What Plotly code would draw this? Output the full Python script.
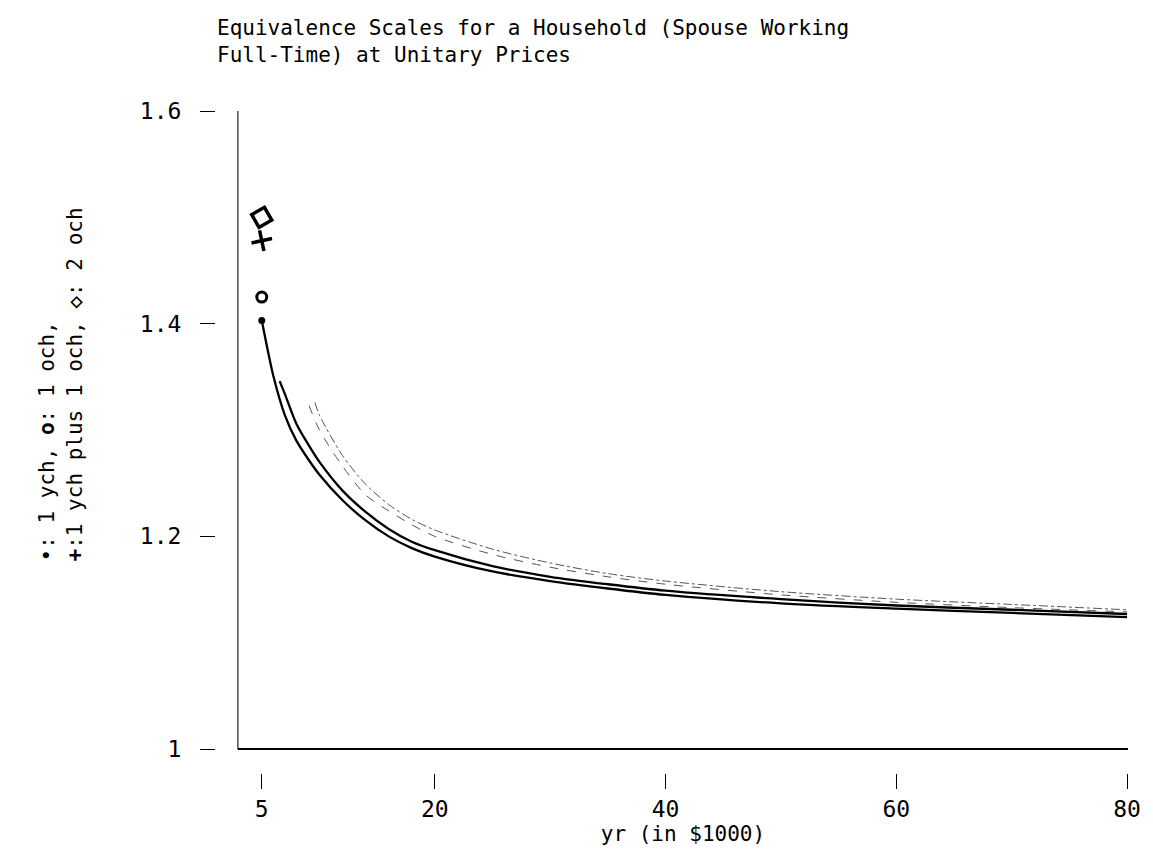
import plotly.graph_objects as go

# ---------------- data ----------------
x_1ych = [5, 5.5, 6, 7, 8, 9, 10, 12, 14, 16, 18, 20, 25, 30, 35, 40, 50, 60, 70, 80]
y_1ych = [1.403, 1.376, 1.351, 1.314, 1.290, 1.273, 1.258, 1.234, 1.215, 1.200, 1.189,
          1.181, 1.167, 1.158, 1.151, 1.145, 1.137, 1.132, 1.128, 1.124]

x_1och = [6.55, 7, 8, 9, 10, 12, 14, 16, 18, 20, 25, 30, 35, 40, 50, 60, 70, 80]
y_1och = [1.346, 1.334, 1.306, 1.287, 1.270, 1.243, 1.223, 1.207, 1.195, 1.187, 1.172,
          1.162, 1.155, 1.149, 1.141, 1.135, 1.131, 1.127]

x_1y1o = [9.1, 10, 12, 14, 16, 18, 20, 25, 30, 35, 40, 50, 60, 70, 80]
y_1y1o = [1.323, 1.300, 1.266, 1.239, 1.224, 1.211, 1.200, 1.183, 1.171, 1.162, 1.155,
          1.145, 1.138, 1.133, 1.129]

x_2och = [9.6, 10, 12, 14, 16, 18, 20, 25, 30, 35, 40, 50, 60, 70, 80]
y_2och = [1.326, 1.314, 1.276, 1.249, 1.230, 1.216, 1.206, 1.188, 1.175, 1.165, 1.158,
          1.148, 1.141, 1.136, 1.131]

marker_x = [5]
marker_1ych = [1.403]
marker_1och = [1.425]
marker_1y1o = [1.478]
marker_2och = [1.500]

x_ticks = [5, 20, 40, 60, 80]
y_ticks = [1.0, 1.2, 1.4, 1.6]
y_ticktext = ["1", "1.2", "1.4", "1.6"]

title_text = ("Equivalence Scales for a Household (Spouse Working<br>"
              "Full-Time) at Unitary Prices")
x_title = "yr (in $1000)"
y_label = ("•: 1 ych, <b>o</b>: 1 och,<br>"
           "<b>+</b>:1 ych plus 1 och, <b>◇</b>: 2 och")

FONT = "DejaVu Sans Mono"

# ---------------- figure ----------------
fig = go.Figure()

fig.add_trace(go.Scatter(x=x_1ych, y=y_1ych, mode="lines",
                         line=dict(color="black", width=2.3, shape="spline", smoothing=0.8),
                         showlegend=False))
fig.add_trace(go.Scatter(x=x_1och, y=y_1och, mode="lines",
                         line=dict(color="black", width=2.3, shape="spline", smoothing=0.8),
                         showlegend=False))
fig.add_trace(go.Scatter(x=x_1y1o, y=y_1y1o, mode="lines",
                         line=dict(color="#555555", width=1, dash="dash",
                                   shape="spline", smoothing=0.8),
                         showlegend=False))
fig.add_trace(go.Scatter(x=x_2och, y=y_2och, mode="lines",
                         line=dict(color="#555555", width=1, dash="dashdot",
                                   shape="spline", smoothing=0.8),
                         showlegend=False))

fig.add_trace(go.Scatter(x=marker_x, y=marker_1ych, mode="markers",
                         marker=dict(symbol="circle", size=7, color="black"), showlegend=False))
fig.add_trace(go.Scatter(x=marker_x, y=marker_1och, mode="markers",
                         marker=dict(symbol="circle-open", size=10, color="black",
                                     line=dict(width=3, color="black")), showlegend=False))
fig.add_trace(go.Scatter(x=marker_x, y=marker_1y1o, mode="markers",
                         marker=dict(symbol="cross-thin-open", size=15, color="black", angle=-12,
                                     line=dict(width=3.5, color="black")), showlegend=False))
fig.add_trace(go.Scatter(x=marker_x, y=marker_2och, mode="markers",
                         marker=dict(symbol="diamond-open", size=16, color="black", angle=15,
                                     line=dict(width=3.5, color="black")), showlegend=False))

W, H = 1153, 852
ml, mr, mt, mb = 215, 20, 111, 77
pw = W - ml - mr
ph = H - mt - mb

fig.update_layout(
    width=W, height=H,
    margin=dict(l=ml, r=mr, t=mt, b=mb, pad=0),
    paper_bgcolor="white", plot_bgcolor="white",
    font=dict(family=FONT, color="black", size=21),
    xaxis=dict(domain=[(238 - ml) / pw, 1], range=[2.93, 80.08],
               anchor="free", position=0,
               showline=False, showgrid=False, zeroline=False,
               ticks="outside", ticklen=15, tickwidth=1.2, tickcolor="black",
               tickvals=x_ticks, ticktext=[str(v) for v in x_ticks],
               tickfont=dict(family=FONT, size=23, color="black"),
               title=dict(text=x_title, standoff=4,
                          font=dict(family=FONT, size=21, color="black"))),
    yaxis=dict(domain=[(775 - 751) / ph, 1], range=[1.0, 1.6],
               anchor="free", position=0,
               showline=False, showgrid=False, zeroline=False,
               ticks="outside", ticklen=15, tickwidth=1.2, tickcolor="black",
               tickvals=y_ticks, ticktext=y_ticktext,
               ticklabelstandoff=14,
               tickfont=dict(family=FONT, size=23, color="black")),
)

# axis lines (left and bottom frame)
fig.add_shape(type="line", xref="x domain", yref="y domain", x0=0, x1=0, y0=0, y1=1,
              line=dict(color="#333333", width=1.3))
fig.add_shape(type="line", xref="x domain", yref="y domain", x0=0, x1=1, y0=0, y1=0,
              line=dict(color="black", width=2))

# title
fig.add_annotation(text=title_text, showarrow=False,
                   xref="paper", yref="paper",
                   x=0, xanchor="left",
                   y=(775 - 14) / ph, yanchor="top",
                   align="left",
                   font=dict(family=FONT, size=21, color="black"))

# y-axis label
fig.add_annotation(text=y_label, textangle=-90, showarrow=False,
                   xref="paper", yref="paper",
                   x=(60 - ml) / pw, xanchor="center",
                   y=(775 - 565) / ph, yanchor="bottom",
                   align="left",
                   font=dict(family=FONT, size=21, color="black"))

fig.write_html("out.html")
